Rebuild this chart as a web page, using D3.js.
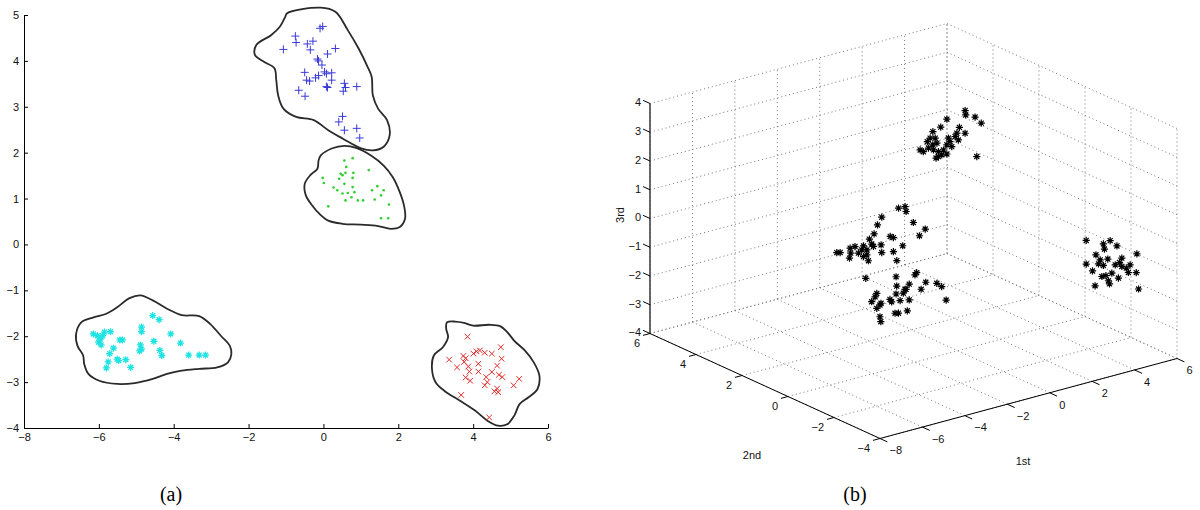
<!DOCTYPE html>
<html>
<head>
<meta charset="utf-8">
<script src="https://cdn.jsdelivr.net/npm/d3@7"></script>
<style>
body { margin: 0; background: #fff; }
svg text { font-family: "Liberation Sans", Arial, sans-serif; font-size: 11px; fill: #111; }
svg text.cap { font-family: "Liberation Serif", "Times New Roman", serif; font-size: 20px; fill: #000; }
.grid { stroke: #777; stroke-width: 1; stroke-dasharray: 1,3; fill: none; }
</style>
</head>
<body>
<svg width="1200" height="510"></svg>
<script>
// ---- panel (a) data: [1st, 2nd]
var plusPts = [[-1.07,4.25],[-0.75,4.54],[-0.73,4.40],[-0.43,4.37],[-0.28,4.43],[-0.35,4.24],[-0.09,4.71],[-0.02,4.75],
	[0.32,4.27],[0.11,4.15],[-0.16,4.04],[-0.13,4.00],[-0.04,3.91],[0.03,3.76],[0.22,3.74],[0.08,3.72],[-0.13,3.68],
	[-0.21,3.63],[-0.50,3.75],[-0.45,3.58],[-0.37,3.56],[0.22,3.58],[0.08,3.44],[0.11,3.42],[0.56,3.51],[0.59,3.42],
	[0.53,3.34],[0.89,3.44],[-0.66,3.36],[-0.49,3.23],[0.51,2.79],[0.41,2.67],[0.56,2.49],[0.89,2.53],[0.97,2.32]];
var dotPts = [[0.56,1.83],[0.78,1.88],[0.61,1.69],[0.46,1.54],[0.51,1.51],[0.59,1.56],[0.80,1.56],[1.21,1.62],
	[-0.02,1.45],[0.01,1.34],[0.42,1.43],[0.56,1.32],[0.78,1.45],[0.27,1.24],[0.37,1.18],[0.51,1.11],[0.65,1.12],
	[0.78,1.25],[0.83,1.14],[0.75,1.03],[0.59,0.96],[0.92,0.96],[1.06,0.96],[1.30,1.18],[1.44,1.27],[1.61,1.18],
	[1.37,0.98],[1.54,1.07],[1.75,0.87],[0.13,0.83],[1.54,0.57],[1.73,0.57]];
var starPts = [[-6.15,-1.95],[-6.04,-1.99],[-5.96,-2.06],[-5.90,-1.99],[-5.85,-1.91],[-5.69,-1.90],[-6.01,-2.13],
	[-5.94,-2.19],[-5.61,-2.26],[-5.71,-2.38],[-5.75,-2.56],[-5.80,-2.69],[-5.51,-2.50],[-5.44,-2.08],[-5.37,-2.08],
	[-5.47,-2.53],[-5.28,-2.51],[-5.15,-2.68],[-4.86,-1.80],[-4.86,-1.90],[-4.89,-2.19],[-4.86,-2.28],[-4.91,-2.32],
	[-4.56,-1.55],[-4.39,-1.64],[-4.53,-2.11],[-4.37,-2.31],[-4.32,-2.42],[-4.08,-1.95],[-3.82,-2.15],[-3.60,-2.41],
	[-3.32,-2.41],[-3.15,-2.41]];
var crossPts = [[3.85,-2.01],[3.36,-2.51],[3.74,-2.43],[3.80,-2.48],[3.76,-2.56],[3.57,-2.68],[3.87,-2.66],[3.90,-2.77],
	[3.80,-2.90],[3.92,-2.97],[4.14,-2.77],[4.14,-2.60],[4.09,-2.33],[4.18,-2.31],[4.31,-2.36],[4.50,-2.38],[4.74,-2.24],
	[4.76,-2.49],[4.64,-2.64],[4.50,-2.78],[4.69,-2.84],[4.78,-2.89],[4.35,-2.89],[4.38,-3.00],[4.31,-3.07],[4.64,-3.14],
	[4.67,-3.22],[4.57,-3.20],[3.68,-3.28],[5.08,-3.07],[5.23,-2.93],[4.43,-3.77],[4.01,-2.38]];

// cluster outlines (closed)
var blueOutline = [[-0.97,5.04],[-0.07,5.16],[0.32,5.07],[0.65,4.67],[0.94,4.27],[1.18,3.87],[1.29,3.65],[1.32,3.25],
	[1.46,2.96],[1.70,2.71],[1.77,2.38],[1.61,2.13],[1.32,2.05],[0.99,2.10],[0.51,2.31],[0.13,2.49],[-0.26,2.71],
	[-0.73,2.78],[-1.07,2.96],[-1.21,3.25],[-1.26,3.58],[-1.31,3.84],[-1.59,3.98],[-1.83,4.13],[-1.79,4.35],
	[-1.40,4.56],[-1.16,4.75],[-1.02,4.96]];
var greenOutline = [[-0.07,1.94],[0.22,2.09],[0.56,2.15],[0.89,2.10],[1.27,1.94],[1.61,1.72],[1.85,1.47],[2.04,1.14],
	[2.16,0.82],[2.18,0.56],[2.04,0.38],[1.80,0.34],[1.46,0.40],[0.99,0.43],[0.51,0.45],[0.13,0.52],[-0.11,0.67],
	[-0.30,0.85],[-0.47,1.07],[-0.50,1.32],[-0.35,1.51],[-0.16,1.65],[-0.13,1.83]];
var cyanOutline = [[-6.61,-1.96],[-6.47,-1.70],[-6.14,-1.59],[-5.80,-1.51],[-5.51,-1.37],[-5.18,-1.17],[-4.89,-1.11],
	[-4.56,-1.22],[-4.18,-1.40],[-3.79,-1.54],[-3.32,-1.56],[-3.03,-1.73],[-2.74,-1.99],[-2.50,-2.21],[-2.46,-2.39],
	[-2.55,-2.57],[-2.84,-2.68],[-3.32,-2.71],[-3.79,-2.75],[-4.18,-2.82],[-4.56,-2.93],[-5.04,-3.02],[-5.51,-3.04],
	[-5.99,-2.97],[-6.28,-2.82],[-6.39,-2.61],[-6.42,-2.42],[-6.57,-2.21]];
var redOutline = [[3.30,-1.70],[3.52,-1.68],[3.76,-1.71],[4.00,-1.77],[4.43,-1.75],[4.72,-1.78],[4.91,-1.91],
	[5.10,-2.10],[5.38,-2.31],[5.62,-2.57],[5.77,-2.86],[5.72,-3.15],[5.48,-3.33],[5.24,-3.48],[5.10,-3.73],
	[4.91,-3.92],[4.67,-3.95],[4.38,-3.84],[4.05,-3.62],[3.66,-3.41],[3.28,-3.22],[3.00,-3.01],[2.90,-2.71],
	[2.95,-2.42],[3.19,-2.24],[3.33,-2.02],[3.28,-1.84]];

var xTicksA = [-8,-6,-4,-2,0,2,4,6];
var yTicksA = [-4,-3,-2,-1,0,1,2,3,4,5];

// ---- panel (b) data: [1st, 2nd, 3rd]
var cloudTop = [[1.65,1.2,3.59],[1.68,1.2,3.43],[2.12,1.2,3.27],[2.41,1.2,3.00],[0.79,1.2,3.46],[0.50,1.2,3.24],
	[1.38,1.2,3.06],[1.26,1.2,2.88],[1.65,1.2,2.80],[1.33,1.2,2.63],[0.13,1.2,3.16],[0.00,1.2,2.96],[0.24,1.2,2.91],
	[-0.13,1.2,2.86],[0.13,1.2,2.70],[0.32,1.2,2.72],[0.86,1.2,2.79],[0.94,1.2,2.65],[0.79,1.2,2.57],[1.02,1.2,2.46],
	[0.63,1.2,2.42],[0.39,1.2,2.41],[0.16,1.2,2.52],[-0.32,1.2,2.55],[-0.08,1.2,2.63],[0.39,1.2,2.24],[0.28,1.2,2.21],
	[0.55,1.2,2.27],[0.79,1.2,2.25],[1.18,1.2,2.78],[2.20,1.2,1.88],[-0.47,1.2,2.64]];
var cloudMid = [[1.53,3.7,-0.64],[1.58,3.7,-0.82],[1.22,3.7,-0.63],[0.43,3.7,-0.79],[0.23,3.7,-1.02],[1.92,3.7,-1.27],
	[2.48,3.7,-1.61],[2.21,3.7,-1.79],[0.07,3.7,-1.30],[-0.15,3.7,-1.44],[0.83,3.7,-1.54],[0.98,3.7,-1.61],
	[-0.04,3.7,-1.63],[0.04,3.7,-1.73],[-0.43,3.7,-1.62],[-0.27,3.7,-1.79],[0.40,3.7,-1.75],[1.42,3.7,-1.98],
	[0.43,3.7,-2.02],[0.98,3.7,-2.10],[1.14,3.7,-2.44],[-0.51,3.7,-1.74],[-0.67,3.7,-1.82],[-0.43,3.7,-1.99],
	[-0.20,3.7,-2.18],[-0.83,3.7,-1.56],[-1.06,3.7,-1.57],[-1.03,3.7,-1.75],[-1.09,3.7,-1.91],[-1.53,3.7,-1.63],
	[-1.69,3.7,-1.60],[-0.27,3.7,-1.96]];
var cloudLow = [[-6.72,-2.2,0.66],[-5.29,-2.2,0.43],[-4.32,-2.2,0.38],[-4.40,-2.2,0.32],[-4.67,-2.2,0.05],
	[-3.89,-2.2,-0.04],[-3.37,-2.2,-0.18],[-3.14,-2.2,-0.34],[-5.26,-2.2,0.10],[-4.87,-2.2,-0.09],[-4.95,-2.2,-0.21],
	[-5.29,-2.2,-0.17],[-4.11,-2.2,-0.24],[-6.20,-2.2,0.03],[-6.28,-2.2,-0.07],[-6.44,-2.2,-0.21],[-5.58,-2.2,-0.30],
	[-5.50,-2.2,-0.40],[-5.10,-2.2,-0.44],[-4.67,-2.2,-0.50],[-6.05,-2.2,-0.40],[-6.20,-2.2,-0.49],[-6.00,-2.2,-0.35],
	[-5.34,-2.2,-0.83],[-5.18,-2.2,-0.86],[-4.76,-2.2,-0.86],[-6.05,-2.2,-0.81],[-6.01,-2.2,-0.99],[-2.93,-2.2,-0.85],
	[-4.82,-2.2,-0.10]];
var cloudRight = [[3.02,-2.8,0.26],[3.83,-2.8,-0.02],[4.15,-2.8,0.03],[4.47,-2.8,-0.22],[3.88,-2.8,-0.21],
	[5.41,-2.8,-0.68],[3.48,-2.8,-0.33],[4.04,-2.8,-0.59],[4.70,-2.8,-0.69],[3.60,-2.8,-0.67],[3.02,-2.8,-0.56],
	[3.83,-2.8,-0.77],[4.39,-2.8,-0.86],[4.59,-2.8,-0.82],[5.09,-2.8,-1.00],[4.91,-2.8,-1.08],[3.32,-2.8,-0.86],
	[4.23,-2.8,-1.12],[5.01,-2.8,-1.25],[5.38,-2.8,-1.33],[3.76,-2.8,-1.14],[3.95,-2.8,-1.15],[4.54,-2.8,-1.35],
	[4.07,-2.8,-1.35],[4.12,-2.8,-1.47],[3.44,-2.8,-1.40],[5.49,-2.8,-1.92],[3.68,-2.8,-0.55],[4.70,-2.8,-0.98]];

var ticks1st = [-8,-6,-4,-2,0,2,4,6];
var ticks2nd = [-4,-2,0,2,4,6];
var ticks3rd = [-4,-3,-2,-1,0,1,2,3,4];

var svg = d3.select("svg");

function plusPath(r) { return "M" + (-r) + ",0L" + r + ",0M0," + (-r) + "L0," + r; }
function crossPath(r) { return "M" + (-r) + "," + (-r) + "L" + r + "," + r + "M" + (-r) + "," + r + "L" + r + "," + (-r); }
function starPath(r) { var a = r * 0.7; return plusPath(r) + crossPath(a); }

// ================= panel (a) =================
var xA = d3.scaleLinear().domain([-8, 6]).range([24, 548]);
var yA = d3.scaleLinear().domain([-4, 5]).range([428, 15]);
var ga = svg.append("g");

ga.append("g")
	.attr("transform", "translate(0," + yA(-4) + ")")
	.call(d3.axisBottom(xA).tickValues(xTicksA).tickSizeInner(-4).tickSizeOuter(0).tickPadding(5));
ga.append("g")
	.attr("transform", "translate(" + xA(-8) + ",0)")
	.call(d3.axisLeft(yA).tickValues(yTicksA).tickSizeInner(-4).tickSizeOuter(0).tickPadding(5));

var blob = d3.line()
	.x(function(d) { return xA(d[0]); })
	.y(function(d) { return yA(d[1]); })
	.curve(d3.curveCatmullRomClosed);

[blueOutline, greenOutline, cyanOutline, redOutline].forEach(function(o) {
	ga.append("path").attr("d", blob(o))
		.attr("fill", "none").attr("stroke", "#2a2a2a").attr("stroke-width", 1.8);
});

ga.selectAll(".plus").data(plusPts).enter().append("path")
	.attr("transform", function(d) { return "translate(" + xA(d[0]) + "," + yA(d[1]) + ")"; })
	.attr("d", plusPath(4)).attr("stroke", "#3a3ad8").attr("stroke-width", 1).attr("fill", "none");
ga.selectAll(".dot").data(dotPts).enter().append("circle")
	.attr("cx", function(d) { return xA(d[0]); })
	.attr("cy", function(d) { return yA(d[1]); })
	.attr("r", 1.3).attr("fill", "#2ccf2c");
ga.selectAll(".star").data(starPts).enter().append("path")
	.attr("transform", function(d) { return "translate(" + xA(d[0]) + "," + yA(d[1]) + ")"; })
	.attr("d", starPath(3.5)).attr("stroke", "#1fe3e3").attr("stroke-width", 1.3).attr("fill", "none");
ga.selectAll(".cross").data(crossPts).enter().append("path")
	.attr("transform", function(d) { return "translate(" + xA(d[0]) + "," + yA(d[1]) + ")"; })
	.attr("d", crossPath(2.8)).attr("stroke", "#e22a2a").attr("stroke-width", 1).attr("fill", "none");

svg.append("text").attr("class", "cap").attr("x", 171).attr("y", 501).attr("text-anchor", "middle").text("(a)");

// ================= panel (b) =================
var sX = d3.scaleLinear().domain([-8, 6]).range([0, 1]);
var sY = d3.scaleLinear().domain([-4, 6]).range([0, 1]);
var sZ = d3.scaleLinear().domain([-4, 4]).range([0, 1]);
var origin = [880, 438.5], ex = [297, -80], ey = [-230, -105], ez = [0, -230];
function proj(x, y, z) {
	var u = sX(x), v = sY(y), w = sZ(z);
	return [origin[0] + u * ex[0] + v * ey[0] + w * ez[0], origin[1] + u * ex[1] + v * ey[1] + w * ez[1]];
}
var gb = svg.append("g");
function seg(g, p, q, cls) {
	g.append("line").attr("class", cls)
		.attr("x1", p[0]).attr("y1", p[1]).attr("x2", q[0]).attr("y2", q[1]);
}

// grid on the back walls and floor
ticks1st.forEach(function(t) {
	seg(gb, proj(t, 6, -4), proj(t, 6, 4), "grid");
	seg(gb, proj(t, -4, -4), proj(t, 6, -4), "grid");
});
ticks2nd.forEach(function(t) {
	seg(gb, proj(6, t, -4), proj(6, t, 4), "grid");
	seg(gb, proj(-8, t, -4), proj(6, t, -4), "grid");
});
ticks3rd.forEach(function(t) {
	seg(gb, proj(-8, 6, t), proj(6, 6, t), "grid");
	seg(gb, proj(6, 6, t), proj(6, -4, t), "grid");
});

// axis lines
var axStyle = function(sel) { return sel.attr("stroke", "#000").attr("stroke-width", 1); };
axStyle(gb.append("line").attr("x1", proj(-8, 6, -4)[0]).attr("y1", proj(-8, 6, -4)[1])
	.attr("x2", proj(-8, 6, 4)[0]).attr("y2", proj(-8, 6, 4)[1])).attr("stroke", "#444").attr("stroke-width", 1.6);
axStyle(gb.append("line").attr("x1", proj(-8, 6, -4)[0]).attr("y1", proj(-8, 6, -4)[1])
	.attr("x2", proj(-8, -4, -4)[0]).attr("y2", proj(-8, -4, -4)[1]));
axStyle(gb.append("line").attr("x1", proj(-8, -4, -4)[0]).attr("y1", proj(-8, -4, -4)[1])
	.attr("x2", proj(6, -4, -4)[0]).attr("y2", proj(6, -4, -4)[1]));

// ticks and labels
ticks1st.forEach(function(t) {
	var p = proj(t, -4, -4), q = proj(t, -4.32, -4);
	axStyle(gb.append("line").attr("x1", p[0]).attr("y1", p[1]).attr("x2", q[0]).attr("y2", q[1]));
	gb.append("text").attr("x", p[0] + 9.5).attr("y", p[1] + 12).attr("dy", "0.35em")
		.text(d3.format("d")(t));
});
ticks2nd.forEach(function(t) {
	var p = proj(-8, t, -4), q = proj(-7.67, t, -4);
	var r = proj(-8.33, t, -4);
	axStyle(gb.append("line").attr("x1", r[0]).attr("y1", r[1]).attr("x2", p[0]).attr("y2", p[1]));
	gb.append("text").attr("x", p[0] - 10).attr("y", p[1] + 10).attr("dy", "0.35em")
		.attr("text-anchor", "end").text(d3.format("d")(t));
});
ticks3rd.forEach(function(t) {
	var p = proj(-8, 6, t), q = proj(-8, 6.3, t);
	axStyle(gb.append("line").attr("x1", p[0]).attr("y1", p[1]).attr("x2", q[0]).attr("y2", q[1]));
	gb.append("text").attr("x", 641).attr("y", p[1] - 1).attr("dy", "0.35em")
		.attr("text-anchor", "end").text(d3.format("d")(t));
});
gb.append("text").attr("transform", "translate(624,215) rotate(-90)").attr("text-anchor", "middle").text("3rd");
gb.append("text").attr("x", 752).attr("y", 455).attr("dy", "0.35em").attr("text-anchor", "middle").text("2nd");
gb.append("text").attr("x", 1023).attr("y", 461).attr("dy", "0.35em").attr("text-anchor", "middle").text("1st");

// point clouds
var allPts = cloudTop.concat(cloudMid, cloudLow, cloudRight);
gb.selectAll(".pt").data(allPts).enter().append("path")
	.attr("transform", function(d) { var p = proj(d[0], d[1], d[2]); return "translate(" + p[0] + "," + p[1] + ")"; })
	.attr("d", starPath(3.6)).attr("stroke", "#000").attr("stroke-width", 1.2).attr("fill", "none");

svg.append("text").attr("class", "cap").attr("x", 855).attr("y", 501).attr("text-anchor", "middle").text("(b)");
</script>
</body>
</html>
